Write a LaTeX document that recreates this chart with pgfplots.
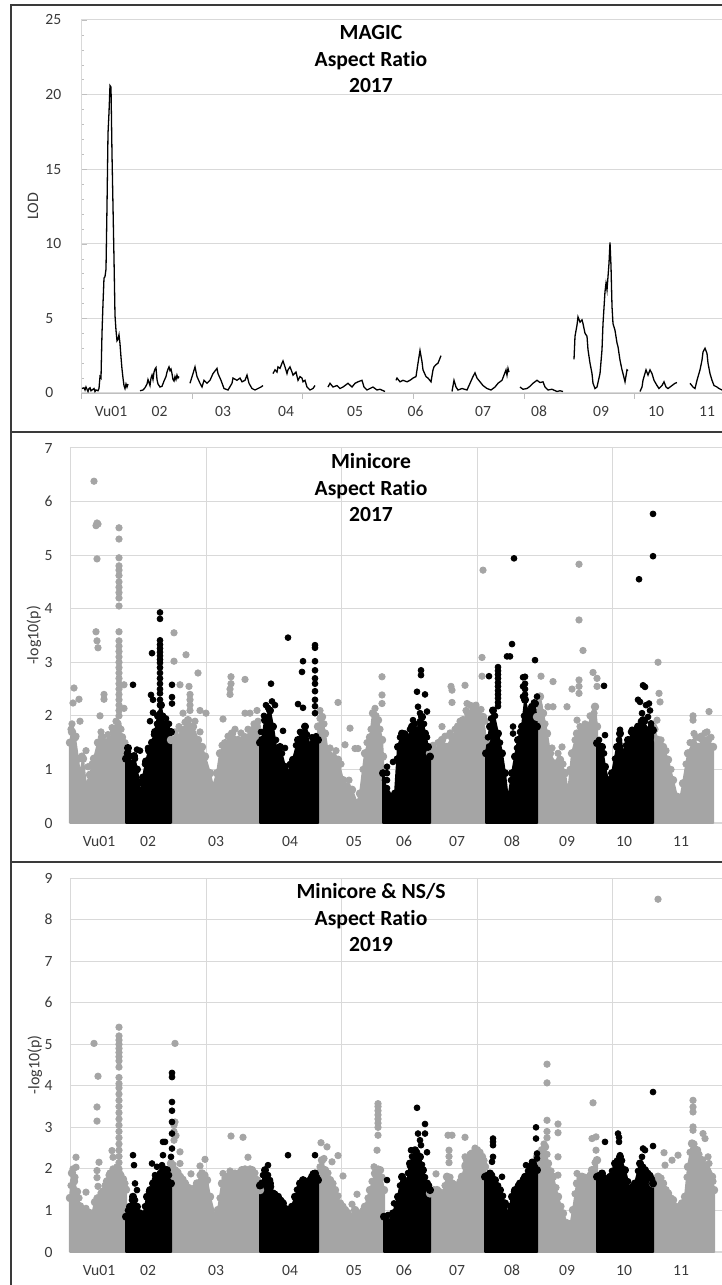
\documentclass[border=0pt]{standalone}
\usepackage{fontspec}
\setmainfont{Carlito}[Ligatures=CommonOff, Numbers=Lining]
\usepackage{pgfplots}
\pgfplotsset{compat=1.18}
\definecolor{gpt}{HTML}{A5A5A5}
\definecolor{gridc}{HTML}{D9D9D9}
\definecolor{axc}{HTML}{BFBFBF}
\definecolor{txt}{HTML}{3A3A3A}
\definecolor{frm}{HTML}{3A3A3A}
\tikzset{ttl/.style={anchor=north, inner sep=0pt, align=center, yshift=-2.5pt, font=\fontsize{10.8}{13.25}\selectfont\bfseries, text=black}}
\pgfplotsset{
 base/.style={scale only axis, anchor=south west,
   /pgf/number format/assume math mode=true,
   tick label style={font=\fontsize{7.8}{9}\selectfont, text=txt},
   label style={font=\fontsize{8}{9}\selectfont, text=txt},
   ymajorgrids, major grid style={gridc, line width=0.5pt},
   axis x line*=bottom, axis y line*=left,
   axis line style={-},
   xticklabel style={anchor=base, inner sep=0pt, yshift=-12pt},
   tick align=inside,
 },
 cloudg/.style={color=gpt, draw=gpt, fill=gpt, line width=1pt, line join=round, mark=*, mark size=1.6pt, mark options={draw=none, fill=gpt}},
 cloudb/.style={color=black, draw=black, fill=black, line width=1pt, line join=round, mark=*, mark size=1.5pt, mark options={draw=none, fill=black}},
 ptg/.style={color=gpt, only marks, mark=*, mark size=1.6pt, mark options={draw=none, fill=gpt}},
 ptb/.style={color=black, only marks, mark=*, mark size=1.45pt, mark options={draw=none, fill=black}},
}
\begin{document}
\begin{tikzpicture}
% ---------------- Panel 1: MAGIC LOD ----------------
\begin{axis}[base, at={(40.5pt,446pt)}, width=320.5pt, height=186.5pt,
  xmin=81, xmax=722, ymin=0, ymax=25,
  ytick={0,5,10,15,20,25}, minor y tick num=4,
  major tick length=3pt, minor tick length=1.5pt,
  xtick={81,191.7,302.4,413.1,523.8,634.5}, xticklabels={},
  x tick style={yshift=-3pt, draw=axc},
  y tick style={draw=axc},
  x axis line style={draw=axc}, y axis line style={draw=gridc},
  extra x ticks={111,159.5,223,286,355,415.5,483,539,601,656,707},
  extra x tick labels={Vu01,02,03,04,05,06,07,08,09,10,11},
  extra x tick style={major tick length=0pt, grid=none},
  yticklabel style={anchor=west, inner sep=0pt, xshift=-18pt},
  ylabel={LOD}, ylabel style={at={(axis description cs:0,0.5)}, yshift=24pt, anchor=center},
  unbounded coords=jump]
\addplot[black, line width=0.65pt] coordinates {
(82,0.3) (84,0.35) (85,0.2) (86,0.4) (88,0.1) (89,0.3) (90,0.35) (91,0.15) (93,0.25) (94,0.3) (95,0.1) (96,0.2) (98,0.15) (99,0.3) (100,1.1) (101,1.0) (102,4.0) (103,6.0) (104,7.7) (105,7.8) (106,8.3) (107,12.5) (108,17.4) (109,18.8) (110,20.6) (111,20.5) (112,16) (113,12.5) (114,9) (115,5.2) (116,4.2) (117,3.5) (118,3.6) (119,3.9) (120,3.3) (121,2.4) (122,1.6) (123,1.0) (124,0.5) (125,0.3) (126,0.6) (127,0.4) (128,0.6)
(134,nan)
(140,0.15) (143,0.2) (145,0.35) (147,0.6) (148,0.9) (150,0.5) (151,1.0) (152,1.2) (153,0.9) (154,1.4) (155,1.6) (156,1.7) (157,0.9) (158,0.6) (160,0.4) (162,0.45) (164,0.8) (166,1.1) (167,1.4) (168,1.6) (169,1.75) (170,1.5) (171,1.6) (172,1.3) (173,0.9) (174,0.8) (175,1.1) (176,0.9) (177,1.2) (178,1.0) (179,1.1)
(185,nan)
(190,0.65) (193,1.3) (195,1.75) (197,1.1) (200,0.65) (202,0.4) (204,0.85) (207,0.65) (210,0.85) (213,1.3) (217,1.65) (218,1.3) (221,0.85) (224,0.3) (228,0.2) (232,0.65) (233,1.0) (237,0.85) (240,1.0) (242,0.75) (245,0.85) (247,1.2) (249,0.65) (252,0.3) (255,0.2) (258,0.3) (261,0.4) (263,0.5)
(268,nan)
(273,1.3) (275,1.55) (277,1.4) (278,1.75) (280,1.65) (282,2.0) (283,2.15) (285,1.75) (287,1.3) (288,1.55) (290,1.75) (292,1.4) (293,1.2) (296,1.4) (298,0.85) (300,1.1) (302,1.0) (303,0.75) (305,0.85) (307,0.4) (310,0.2) (313,0.3) (315,0.5)
(321,nan)
(328,0.4) (330,0.65) (333,0.4) (337,0.5) (340,0.3) (343,0.4) (348,0.65) (352,0.4) (355,0.65) (358,0.75) (362,0.85) (364,0.4) (367,0.2) (370,0.3) (373,0.4) (377,0.2) (380,0.25) (385,0.1)
(390,nan)
(396,0.85) (397,1.0) (400,0.75) (403,0.85) (407,0.75) (410,0.85) (413,1.0) (416,1.1) (418,2.0) (420,2.85) (422,2.1) (423,1.55) (426,1.1) (428,1.0) (431,0.75) (433,1.55) (434,1.75) (436,1.9) (438,2.0) (441,2.5)
(446,nan)
(452,0.1) (454,0.85) (456,0.4) (458,0.2) (462,0.3) (467,0.2) (470,0.65) (473,1.1) (475,1.35) (477,1.0) (480,0.75) (483,0.5) (487,0.3) (491,0.2) (495,0.4) (498,0.65) (502,0.85) (504,1.2) (506,1.55) (507,1.2) (508,1.65) (509,1.4)
(514,nan)
(520,0.4) (523,0.25) (527,0.3) (530,0.45) (533,0.65) (537,0.85) (540,0.7) (543,0.75) (545,0.4) (548,0.2) (552,0.25) (557,0.1) (560,0.15) (563,0.1)
(568,nan)
(574,2.25) (575,3.8) (577,4.55) (578,5.1) (580,4.75) (582,4.9) (583,4.65) (585,4.0) (587,3.8) (588,2.9) (590,2.0) (592,1.3) (593,0.65) (595,0.3) (597,0.4) (600,1.3) (602,2.9) (603,4.65) (605,6.8) (606,7.35) (607,6.9) (609,8.7) (610,10.1) (611,8.5) (612,5.8) (613,4.65) (615,4.2) (617,3.35) (618,3.1) (620,2.2) (622,1.55) (623,1.3) (625,0.75) (627,1.55) (628,1.5)
(634,nan)
(640,0.1) (642,0.4) (643,0.85) (646,1.55) (648,1.2) (650,1.55) (652,1.3) (654,0.85) (657,0.5) (659,0.3) (662,0.5) (664,0.75) (666,0.4) (668,0.3) (672,0.5) (675,0.65) (677,0.7)
(683,nan)
(690,0.65) (693,0.4) (695,0.3) (697,0.85) (700,1.55) (702,2.2) (703,2.75) (705,3.0) (707,2.65) (708,2.0) (710,1.3) (712,0.85) (714,0.5) (717,0.4) (719,0.3) (722,0.2)
};
\node[ttl] at (rel axis cs:0.4524,1) {MAGIC\\Aspect Ratio\\2017};
\end{axis}
% ---------------- Panel 2: Minicore 2017 ----------------
\begin{axis}[base, at={(35pt,231pt)}, width=326pt, height=187.5pt, clip=false,
  xmin=70, xmax=722, ymin=0, ymax=7, ytick={0,1,...,7},
  xtick={206,341.5,477,612.5}, xticklabels={}, xmajorgrids,
  major tick length=0pt,
  axis line style={draw=gridc},
  extra x ticks={99,148,216,290,354,404,457,512,567,624,681},
  extra x tick labels={Vu01,02,03,04,05,06,07,08,09,10,11},
  extra x tick style={grid=none},
  yticklabel style={anchor=east, inner sep=0pt, xshift=-8.5pt},
  ylabel={-log10(p)}, ylabel style={at={(axis description cs:0,0.5)}, yshift=18pt, anchor=center}]
% grey clouds
\addplot[cloudg] coordinates {(70,1.5) (72,1.7) (75,1.6) (78,1.2) (80,0.9) (83,1.2) (86,0.7) (90,0.9) (94,1.2) (98,1.5) (102,1.6) (106,1.5) (110,1.55) (114,1.7) (118,1.8) (122,1.6) (126,1.3)} \closedcycle;
\addplot[cloudg] coordinates {(171,1.55) (177,1.6) (182,1.73) (188,1.92) (193,1.8) (198,1.55) (202,1.42) (205,1.24) (210,0.93) (213,0.68) (217,0.93) (220,1.3) (225,1.49) (232,1.67) (238,1.55) (245,1.6) (252,1.73) (257,1.8) (260,1.55)} \closedcycle;
\addplot[cloudg] coordinates {(318,1.8) (322,1.98) (325,1.67) (328,1.3) (333,1.24) (338,1.18) (343,0.8) (347,0.68) (352,0.62) (357,0.37) (360,0.55) (365,1.3) (370,1.6) (373,2.05) (378,1.92) (382,1.55) (383,1.24)} \closedcycle;
\addplot[cloudg] coordinates {(430,1.3) (435,1.36) (442,1.55) (447,1.42) (452,1.6) (458,1.8) (463,1.92) (468,2.05) (473,2.17) (478,2.1) (483,1.98) (486,1.55)} \closedcycle;
\addplot[cloudg] coordinates {(537,1.98) (540,2.36) (543,2.05) (547,1.67) (550,1.3) (555,1.11) (560,1.18) (565,0.93) (568,0.55) (572,1.3) (577,1.67) (582,1.73) (587,1.8) (592,1.98) (595,2.17) (597,1.8)} \closedcycle;
\addplot[cloudg] coordinates {(653,1.8) (658,1.55) (663,1.42) (668,1.18) (673,0.8) (677,0.49) (680,0.43) (683,0.74) (688,1.3) (693,1.49) (698,1.42) (703,1.55) (708,1.55) (713,1.42)} \closedcycle;
\addplot[ptg] coordinates {
(94,6.38) (96,5.55) (97,5.6) (98,5.58) (97,4.93) (96,3.57) (97,3.4) (98,3.27) (74,2.52) (73,2.24) (79,2.31) (80,1.9) (104,2.4) (104,2.31) (100,2.0) (86,1.35) (124,2.58) (124,2.14) (118,1.86)
(119,5.51) (119,5.3) (119,4.95) (119,4.8) (119,4.72) (119,4.62) (119,4.5) (119,4.4) (119,4.3) (119,4.2) (119,4.05) (119,3.57) (119,3.4) (119,3.3) (119,3.2) (119,3.1) (119,3.0) (119,2.9) (119,2.8) (119,2.7) (119,2.6) (119,2.5) (119,2.4) (119,2.3) (119,2.2) (119,2.1) (119,2.0)
(71,1.75) (72,1.85) (76,1.62) (82,1.25) (88,1.05) (92,1.1) (101,1.7) (108,1.65) (112,1.78) (116,1.9) (121,1.75) (125,1.5)
(174,3.55) (174,3.02) (186,3.14) (180,2.58) (198,2.8) (189,2.55) (190,2.4) (190,2.3) (190,2.2) (190,2.1) (200,2.1) (206,2.05) (183,2.05) (223,1.94) (231,2.73) (231,2.6) (230,2.5) (230,2.4) (245,2.68) (245,2.05) (250,2.05) (257,2.1)
(175,1.7) (179,1.8) (185,1.88) (195,1.9) (200,1.7) (222,1.45) (228,1.62) (235,1.75) (241,1.68) (248,1.75) (254,1.85) (258,1.9)
(338,2.25) (350,1.77) (345,1.46) (355,1.39) (358,1.39) (382,2.73) (382,2.39) (382,2.23) (375,2.14) (320,1.95)
(320,2.1) (324,1.85) (330,1.4) (336,1.35) (341,1.1) (349,0.8) (363,1.0) (367,1.5) (371,1.75) (376,2.0) (380,1.75)
(451,2.55) (452,2.48) (452,2.25) (465,2.57) (467,2.23) (482,3.09) (482,2.74) (483,4.72) (442,1.8)
(433,1.45) (438,1.5) (445,1.62) (450,1.68) (455,1.75) (460,1.9) (466,2.1) (470,2.2) (476,2.2) (481,2.12) (485,1.9)
(579,4.83) (579,3.79) (583,3.22) (593,2.81) (541,2.74) (553,2.64) (579,2.67) (579,2.55) (579,2.42) (572,2.5) (597,2.7) (597,2.55) (567,2.17) (577,1.92) (562,1.42) (548,2.17) (553,2.17)
(539,2.2) (545,1.85) (552,1.4) (558,1.3) (563,1.1) (570,1.0) (575,1.55) (580,1.8) (585,1.85) (590,2.0) (594,2.05)
(658,3.0) (659,2.42) (660,2.26) (657,1.92) (693,2.0) (693,1.92) (694,1.67) (709,2.08) (707,1.7) (700,1.58)
(655,1.75) (661,1.55) (666,1.35) (671,1.0) (686,1.1) (690,1.5) (696,1.6) (701,1.62) (705,1.68) (711,1.6)
};
% black clouds
\addplot[cloudb] coordinates {(126,1.2) (128,1.4) (131,1.1) (134,1.25) (137,1.0) (139,0.75) (141,0.5) (143,0.85) (146,1.15) (149,1.35) (152,1.5) (155,1.7) (158,2.0) (161,2.2) (164,1.8) (167,1.85) (171,1.7)} \closedcycle;
\addplot[cloudb] coordinates {(260,1.5) (262,1.55) (265,1.92) (270,2.1) (273,1.8) (277,1.3) (280,1.42) (285,1.05) (288,0.93) (293,1.18) (298,1.55) (302,1.67) (305,1.8) (310,1.42) (313,1.49) (318,1.55)} \closedcycle;
\addplot[cloudb] coordinates {(383,0.93) (387,0.55) (390,0.49) (395,0.55) (398,1.42) (402,1.67) (407,1.55) (412,1.8) (417,1.73) (422,1.98) (425,1.67) (428,1.42) (430,1.24)} \closedcycle;
\addplot[cloudb] coordinates {(486,1.3) (490,1.8) (493,2.1) (498,1.67) (502,1.3) (505,0.93) (508,0.43) (512,0.93) (515,1.24) (518,1.55) (522,1.8) (525,2.3) (528,2.05) (532,2.17) (535,2.23) (537,1.8)} \closedcycle;
\addplot[cloudb] coordinates {(597,1.49) (602,1.42) (605,1.05) (608,0.8) (612,0.93) (617,1.42) (620,1.67) (623,1.3) (628,1.55) (633,1.67) (638,1.8) (643,1.92) (648,1.73) (653,1.73)} \closedcycle;
\addplot[ptb] coordinates {
(160,3.93) (160,3.81) (160,3.41) (160,3.33) (160,3.26) (160,3.19) (160,3.12) (160,3.05) (160,2.99) (160,2.9) (160,2.8) (160,2.7) (160,2.6) (160,2.5) (160,2.42) (160,2.3) (160,2.2) (160,2.05) (160,1.9)
(152,3.17) (133,2.58) (151,2.39) (153,2.3) (153,2.06) (150,1.9) (172,2.58) (172,2.35) (172,2.23) (137,1.37) (128,1.33) (140,1.35)
(127,1.3) (130,1.25) (135,1.2) (145,1.1) (148,1.4) (154,1.65) (157,1.85) (163,2.0) (166,1.95) (169,1.85)
(288,3.46) (271,2.6) (272,2.27) (266,2.2) (275,2.2) (303,3.02) (302,2.82) (298,2.22) (303,2.15) (315,3.32) (315,3.27) (315,3.02) (315,2.85) (315,2.7) (315,2.6) (315,2.46) (315,2.3) (315,2.18) (315,2.05) (283,1.72) (305,1.7) (285,1.4)
(261,1.7) (264,2.0) (268,2.15) (276,1.55) (282,1.3) (290,1.1) (296,1.45) (300,1.7) (307,1.65) (312,1.6) (316,1.62)
(421,2.85) (421,2.76) (417,2.45) (425,2.4) (418,2.17) (427,2.08) (420,2.05) (413,1.92) (412,1.8) (405,1.67) (387,1.05) (387,0.93) (387,0.8) (387,0.65) (393,1.14)
(385,0.8) (397,1.2) (400,1.6) (405,1.65) (410,1.75) (415,1.85) (420,1.9) (424,1.85) (427,1.6)
(498,2.91) (498,2.84) (498,2.77) (498,2.7) (498,2.62) (498,2.55) (498,2.47) (498,2.4) (498,2.33) (498,2.25) (498,2.18)
(489,2.74) (507,3.11) (510,3.11) (512,3.34) (514,4.94) (535,3.04) (523,2.72) (523,2.55) (523,2.36) (525,2.73) (525,2.6) (525,2.5) (525,2.4) (537,2.36) (513,1.8) (513,1.67)
(488,1.6) (491,1.95) (495,2.0) (500,1.5) (511,0.8) (517,1.4) (520,1.7) (524,2.0) (530,2.1) (534,2.25)
(604,2.56) (605,1.64) (620,1.74) (632,1.74) (643,2.57) (645,2.54) (640,2.26) (649,2.23) (642,2.05) (648,1.98) (651,1.86) (639,4.55) (653,4.98) (653,5.77) (638,2.3) (646,2.2) (650,2.1)
(599,1.55) (604,1.3) (615,1.2) (619,1.55) (626,1.45) (631,1.7) (636,1.75) (641,1.9) (645,1.9) (651,1.8)
};
\node[ttl] at (rel axis cs:0.4617,1) {Minicore\\Aspect Ratio\\2017};
\end{axis}
% ---------------- Panel 3: Minicore & NS/S 2019 ----------------
\begin{axis}[base, at={(35pt,16.5pt)}, width=326pt, height=187pt, clip=false,
  xmin=70, xmax=722, ymin=0, ymax=9, ytick={0,1,...,9},
  xtick={206,341.5,477,612.5}, xticklabels={}, xmajorgrids,
  major tick length=0pt,
  axis line style={draw=gridc},
  extra x ticks={99,148,216,290,354,404,457,512,567,624,681},
  extra x tick labels={Vu01,02,03,04,05,06,07,08,09,10,11},
  extra x tick style={grid=none},
  yticklabel style={anchor=east, inner sep=0pt, xshift=-8.5pt},
  ylabel={-log10(p)}, ylabel style={at={(axis description cs:0,0.5)}, yshift=17.5pt, anchor=center}]
\addplot[cloudg] coordinates {(70,1.3) (72,1.9) (74,1.7) (77,1.45) (80,1.1) (84,1.0) (88,0.85) (92,0.9) (95,1.2) (99,1.3) (103,1.45) (107,1.7) (111,1.85) (115,1.95) (119,1.9) (123,1.75) (126,1.5)} \closedcycle;
\addplot[cloudg] coordinates {(171,2.13) (175,1.97) (180,1.81) (185,1.65) (192,1.41) (197,1.65) (202,1.89) (207,1.73) (210,1.33) (215,0.85) (218,1.01) (222,1.65) (227,1.81) (232,1.89) (237,1.81) (242,1.97) (247,1.89) (252,1.97) (257,1.73) (260,1.49)} \closedcycle;
\addplot[cloudg] coordinates {(318,1.89) (322,2.21) (325,1.97) (330,1.73) (335,1.49) (340,1.17) (345,1.01) (350,0.85) (355,1.01) (360,0.85) (365,1.09) (370,1.49) (375,1.89) (380,1.97) (384,1.49)} \closedcycle;
\addplot[cloudg] coordinates {(430,1.41) (437,1.49) (442,1.33) (447,1.81) (452,1.65) (457,1.49) (462,1.81) (467,2.21) (472,2.37) (477,2.45) (482,2.29) (485,2.05)} \closedcycle;
\addplot[cloudg] coordinates {(537,2.29) (542,2.45) (545,2.53) (548,2.13) (553,1.81) (558,1.33) (563,0.93) (567,0.69) (570,0.61) (573,1.01) (577,1.65) (582,1.81) (587,1.73) (592,1.97) (597,2.21)} \closedcycle;
\addplot[cloudg] coordinates {(653,1.65) (658,1.81) (663,1.65) (668,1.41) (673,1.25) (678,1.01) (682,1.17) (685,1.33) (688,2.05) (692,2.61) (697,2.45) (702,2.21) (707,1.97) (712,1.81) (714,1.49)} \closedcycle;
\addplot[ptg] coordinates {
(94,5.02) (98,4.23) (97,3.49) (97,3.15) (76,2.28) (76,2.04) (99,2.16) (97,1.96) (112,2.44) (97,1.79) (98,1.58) (86,1.44) (113,2.28) (110,1.9)
(119,5.41) (119,5.2) (119,5.1) (119,5.0) (119,4.9) (119,4.8) (119,4.7) (119,4.6) (119,4.45) (119,4.2) (119,4.05) (119,3.95) (119,3.8) (119,3.65) (119,3.5) (119,3.35) (119,3.2) (119,3.05) (119,2.9) (119,2.75) (119,2.6) (119,2.45) (119,2.3) (119,2.15) (119,2.0)
(71,1.6) (73,2.0) (75,1.8) (79,1.3) (86,1.05) (90,0.95) (97,1.3) (101,1.42) (105,1.6) (109,1.85) (113,2.0) (117,2.05) (121,1.85) (125,1.65)
(175,5.02) (175,3.13) (174,3.05) (174,2.69) (180,2.41) (180,2.13) (191,1.88) (200,2.07) (205,2.23) (231,2.79) (243,2.76) (248,2.28) (223,1.89) (174,2.9) (176,2.8)
(173,2.1) (178,1.92) (183,1.75) (189,1.55) (195,1.55) (200,1.85) (205,1.85) (220,1.3) (225,1.78) (230,1.95) (235,1.9) (240,1.92) (245,2.0) (250,2.0) (255,1.9)
(321,2.63) (327,2.53) (338,2.32) (332,2.17) (343,1.83) (357,1.39) (352,1.15) (378,3.57) (378,3.5) (378,3.4) (378,3.3) (378,3.2) (378,3.1) (378,3.0) (378,2.81) (377,2.45) (374,2.05)
(320,2.05) (324,2.25) (328,1.9) (333,1.65) (338,1.35) (343,1.1) (348,0.95) (358,0.95) (363,1.0) (368,1.3) (372,1.7) (378,2.0) (382,1.8)
(436,1.88) (448,2.81) (452,2.81) (449,2.45) (449,2.3) (449,2.15) (465,2.76) (465,2.29) (465,2.09) (467,1.85)
(434,1.5) (440,1.45) (445,1.6) (450,1.8) (455,1.62) (460,1.7) (465,2.05) (470,2.35) (475,2.5) (480,2.4) (484,2.2)
(547,4.52) (547,4.07) (547,3.17) (558,3.08) (558,2.87) (558,2.29) (558,1.85) (593,3.59) (592,2.73) (596,2.77) (596,2.45) (577,1.89) (547,2.9) (547,2.75)
(540,2.4) (544,2.6) (547,2.35) (551,1.95) (556,1.55) (561,1.1) (575,1.4) (580,1.78) (585,1.8) (590,1.85) (595,2.15)
(693,3.65) (693,3.49) (693,3.37) (693,3.01) (693,2.93) (703,2.85) (705,2.73) (708,2.29) (709,2.13) (664,2.39) (672,2.21) (678,2.33) (665,2.09) (658,8.49)
(656,1.75) (661,1.78) (666,1.5) (671,1.3) (676,1.1) (687,1.8) (690,2.4) (694,2.6) (699,2.35) (704,2.1) (709,1.9) (713,1.7)
};
\addplot[cloudb] coordinates {(126,0.85) (130,1.09) (133,1.33) (137,1.09) (140,0.93) (143,0.85) (147,1.33) (150,1.49) (153,1.65) (158,1.81) (163,1.97) (167,1.97) (171,1.65)} \closedcycle;
\addplot[cloudb] coordinates {(260,1.6) (262,1.65) (265,1.97) (270,1.65) (273,1.41) (278,1.33) (283,1.17) (288,0.95) (292,1.09) (295,1.33) (300,1.65) (303,1.73) (308,1.65) (312,1.81) (315,1.89) (318,1.73)} \closedcycle;
\addplot[cloudb] coordinates {(384,0.85) (388,0.69) (393,0.93) (398,1.33) (402,1.81) (407,1.65) (410,2.13) (415,2.45) (420,2.29) (423,1.97) (427,1.65) (430,1.49)} \closedcycle;
\addplot[cloudb] coordinates {(485,1.81) (490,1.89) (495,1.73) (500,1.49) (505,1.17) (508,0.9) (512,1.33) (515,1.49) (520,1.65) (525,1.81) (530,2.05) (533,2.13) (537,1.97)} \closedcycle;
\addplot[cloudb] coordinates {(597,1.81) (602,1.89) (605,1.65) (610,1.81) (615,2.13) (620,2.29) (625,1.97) (630,1.49) (635,1.65) (640,2.13) (645,1.97) (650,1.81) (653,1.65)} \closedcycle;
\addplot[ptb] coordinates {
(133,2.33) (134,2.09) (135,1.65) (137,1.49) (152,2.13) (157,2.05) (162,2.09) (163,2.33) (163,2.65) (165,2.65) (155,1.85) (172,4.31) (172,4.21) (172,3.61) (172,3.4) (172,3.13) (172,2.85) (172,2.49) (171,2.29)
(128,1.0) (132,1.25) (135,1.25) (145,1.1) (149,1.45) (155,1.75) (160,1.9) (165,2.0) (169,1.85)
(268,2.09) (268,1.85) (270,1.73) (271,1.57) (282,1.21) (288,2.33) (315,2.33) (313,1.89) (302,1.69) (300,1.57)
(263,1.85) (267,1.85) (275,1.4) (281,1.25) (286,1.05) (290,1.0) (297,1.5) (305,1.72) (310,1.75) (314,1.88) (317,1.8)
(417,3.47) (425,3.08) (418,2.85) (425,2.85) (420,2.69) (421,2.57) (411,2.45) (410,2.07) (402,1.81) (387,1.73) (394,1.17) (388,0.89) (427,2.4) (415,2.3)
(386,0.8) (396,1.15) (400,1.6) (404,1.75) (408,1.9) (412,2.3) (417,2.4) (422,2.1) (425,1.8) (429,1.6)
(493,2.73) (493,2.65) (493,2.57) (493,2.29) (492,2.17) (502,1.81) (536,3.0) (536,2.73) (537,2.37) (537,2.25) (526,2.09) (532,2.17)
(487,1.85) (492,1.85) (498,1.6) (503,1.35) (510,1.1) (514,1.45) (518,1.6) (523,1.75) (528,1.95) (532,2.1) (535,2.05)
(605,2.65) (618,2.85) (619,2.76) (619,2.65) (620,2.33) (620,2.13) (643,2.49) (645,2.45) (642,2.29) (653,3.85) (653,2.55) (650,1.85)
(599,1.85) (604,1.8) (607,1.7) (612,1.95) (617,2.2) (622,2.2) (628,1.7) (633,1.6) (638,1.95) (643,2.05) (648,1.9) (652,1.75)
};
\node[ttl] at (rel axis cs:0.4617,1) {Minicore \& NS/S\\Aspect Ratio\\2019};
\end{axis}
% frame and separators
\draw[frm, line width=1pt] (5.5pt,0pt) -- (5.5pt,640pt) -- (361pt,640pt);
\draw[frm, line width=1pt] (5.5pt,426.5pt) -- (361pt,426.5pt);
\draw[frm, line width=1pt] (5.5pt,211.5pt) -- (361pt,211.5pt);
\pgfresetboundingbox
\path[use as bounding box] (0pt,0pt) rectangle (361pt,642.5pt);
\end{tikzpicture}
\end{document}
